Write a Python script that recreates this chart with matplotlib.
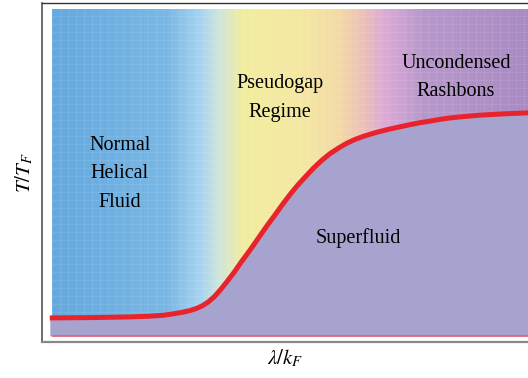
import numpy as np
import matplotlib
matplotlib.use('Agg')
import matplotlib.pyplot as plt
from matplotlib.colors import LinearSegmentedColormap

plt.rcParams['font.family'] = ['Liberation Serif', 'DejaVu Serif']
plt.rcParams['mathtext.fontset'] = 'stix'

# phase boundary T_c(lambda) (axis units 0..1)
lam = [0.016, 0.10, 0.18, 0.22, 0.25, 0.27, 0.29, 0.305, 0.318, 0.330,
       0.342, 0.354, 0.366, 0.38, 0.395, 0.41, 0.428, 0.445, 0.462, 0.48,
       0.496, 0.512, 0.527, 0.543, 0.558, 0.575, 0.592, 0.61, 0.628, 0.645,
       0.662, 0.68, 0.695, 0.715, 0.737, 0.757, 0.778, 0.80, 0.82, 0.84,
       0.86, 0.90, 0.95, 1.0]
tc = [0.071, 0.072, 0.074, 0.076, 0.079, 0.083, 0.088, 0.093, 0.099, 0.107,
      0.118, 0.133, 0.152, 0.177, 0.205, 0.236, 0.271, 0.306, 0.341, 0.376,
      0.408, 0.438, 0.464, 0.489, 0.512, 0.535, 0.555, 0.572, 0.587, 0.598,
      0.607, 0.615, 0.621, 0.628, 0.635, 0.641, 0.647, 0.652, 0.657, 0.661,
      0.664, 0.669, 0.673, 0.676]

# background colour stops (position along lambda, colour)
bg_pos = [0.0, 0.24, 0.31, 0.35, 0.40, 0.52, 0.60, 0.65, 0.70, 0.78, 1.0]
bg_col = ['#64a9e0', '#79b8e6', '#a6d3f0', '#cfe6dc', '#f2ed9e', '#f5e8a0',
          '#f3dba4', '#eec2b6', '#dcaad6', '#b898cc', '#a98bc3']

y_base = 0.018
x_left = 0.02
y_top = 0.98

fig = plt.figure(figsize=(5.28, 3.78), dpi=100)
ax = fig.add_axes([42/528, 36/378, 486/528, 339/378])
ax.set_xlim(0, 1)
ax.set_ylim(0, 1)

cmap = LinearSegmentedColormap.from_list('bg', list(zip(bg_pos, bg_col)))
grad = np.linspace(0, 1, 512).reshape(1, -1)
ax.imshow(grad, cmap=cmap, aspect='auto', extent=[x_left, 1, y_base, y_top],
          origin='lower', zorder=0, interpolation='bilinear')

# faint mesh texture on the background
for gx in np.arange(x_left, 1, 8/486):
    ax.axvline(gx, ymin=y_base, ymax=y_top, color='white', lw=0.5, alpha=0.12, zorder=0.5)
for gy in np.arange(y_base, y_top, 8/339):
    ax.axhline(gy, xmin=x_left, xmax=1, color='white', lw=0.5, alpha=0.12, zorder=0.5)

ax.fill_between(lam, y_base, tc, color='#a6a3ce', zorder=1, lw=0)
ax.plot(lam, tc, color='#e8232b', lw=3.6, solid_capstyle='butt',
        solid_joinstyle='round', zorder=3)
ax.hlines(y_base, x_left, 1, color='#e0606e', lw=1.2, zorder=2)

fs = 14.5
ls = 1.7
ax.text(0.16, 0.496, "Normal\nHelical\nFluid", ha='center', va='center',
        fontsize=fs, linespacing=ls, zorder=4)
ax.text(0.49, 0.72, "Pseudogap\nRegime", ha='center', va='center',
        fontsize=fs, linespacing=ls, zorder=4)
ax.text(0.852, 0.78, "Uncondensed\nRashbons", ha='center', va='center',
        fontsize=fs, linespacing=ls, zorder=4)
ax.text(0.650, 0.307, "Superfluid", ha='center', va='center',
        fontsize=fs, zorder=4)

ax.set_xticks([])
ax.set_yticks([])
ax.spines['right'].set_visible(False)
ax.spines['top'].set_color('#333333')
ax.spines['top'].set_linewidth(1.0)
ax.spines['left'].set_color('#555555')
ax.spines['left'].set_linewidth(1.2)
ax.spines['bottom'].set_color('#888888')
ax.spines['bottom'].set_linewidth(1.6)

ax.set_xlabel(r"$\lambda/k_F$", fontsize=15, labelpad=4)
ax.set_ylabel(r"$T/T_F$", fontsize=15, labelpad=5)

plt.savefig("out.png", dpi=100)
plt.close()
